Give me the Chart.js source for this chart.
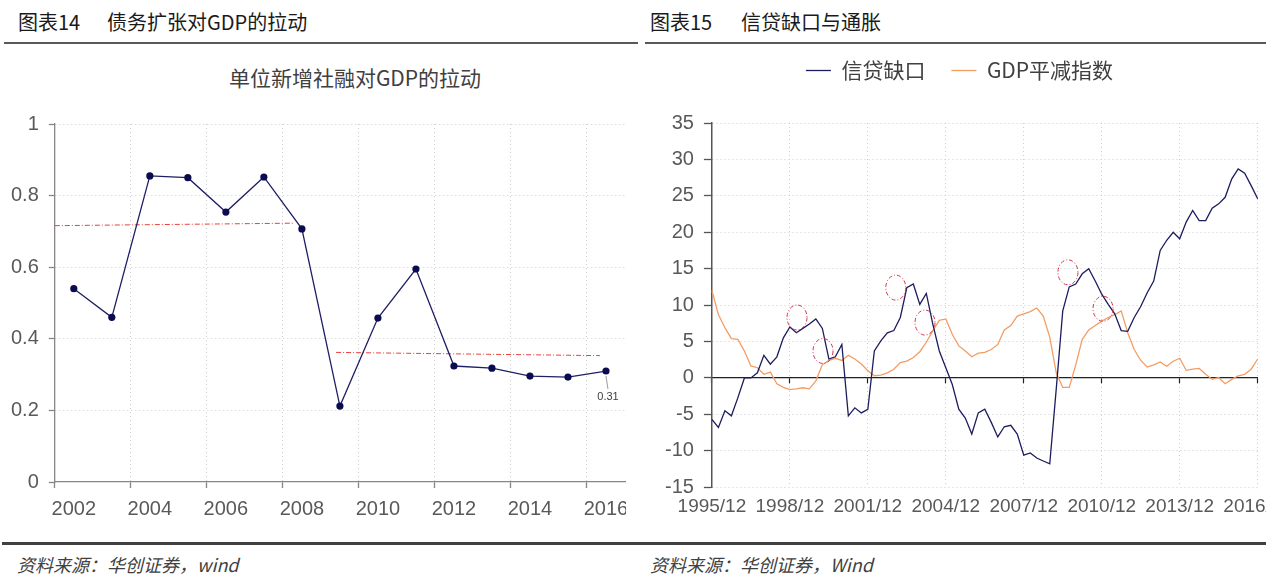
<!DOCTYPE html>
<html><head><meta charset="utf-8">
<script src="https://cdn.jsdelivr.net/npm/chart.js@4.4.1/dist/chart.umd.min.js"></script>
<style>
html,body{margin:0;padding:0;width:1266px;height:588px;overflow:hidden;background:#fff;font-family:"Noto Sans CJK SC",sans-serif;}
.hdr{position:absolute;top:8px;font-size:20px;font-weight:400;color:#1a1a1a;white-space:nowrap;line-height:28px;}
.hdr span.n{display:inline-block;}
.rule{position:absolute;top:42px;height:2px;background:#595959;}
.rule2{position:absolute;top:542px;height:3px;background:#404040;left:2px;width:1264px;}
.foot{position:absolute;top:552px;font-size:18px;font-style:italic;color:#404040;line-height:24px;white-space:nowrap;}
.ttl{position:absolute;top:63px;left:155px;width:400px;text-align:center;font-size:21px;color:#404040;line-height:28px;white-space:nowrap;}
#lw{position:absolute;left:0;top:50px;width:626px;height:480px;overflow:hidden;}
#lw div{position:relative;width:640px;height:480px;}
#rw{position:absolute;left:640px;top:30px;width:626px;height:520px;overflow:hidden;}
#rw div{position:relative;width:660px;height:520px;}
</style></head>
<body>
<div class="hdr" style="left:18px"><span class="n" style="width:89px">图表14</span>债务扩张对GDP的拉动</div>
<div class="hdr" style="left:650px"><span class="n" style="width:91px">图表15</span>信贷缺口与通胀</div>
<div class="rule" style="left:4px;width:634px"></div>
<div class="rule" style="left:645px;width:621px"></div>
<div class="ttl">单位新增社融对GDP的拉动</div>
<div id="lw"><div><canvas id="c1"></canvas></div></div>
<div id="rw"><div><canvas id="c2"></canvas></div></div>
<div class="rule2"></div>
<div class="foot" style="left:17px">资料来源：华创证券，wind</div>
<div class="foot" style="left:650px">资料来源：华创证券，Wind</div>
<script>
// ---------- Left chart data ----------
const years = ['2002','2003','2004','2005','2006','2007','2008','2009','2010','2011','2012','2013','2014','2015','2016'];
const pull = [0.54,0.46,0.855,0.85,0.754,0.852,0.707,0.212,0.458,0.595,0.324,0.318,0.296,0.293,0.31];
const trend1X = [-0.5, 5.8];
const trend1Y = [0.716, 0.723];
const trend2X = [6.9, 13.84];
const trend2Y = [0.362, 0.353];

// ---------- Right chart data ----------
const quarters = ['1995/12'];
for (let yr = 1996; yr <= 2016; yr++) for (const m of ['03','06','09','12']) quarters.push(yr + '/' + m);
const creditGap = [-5.7,-6.8,-4.5,-5.2,-2.7,0.0,0.0,0.7,3.1,1.9,2.9,5.5,7.0,6.2,6.8,7.4,8.1,6.8,2.6,2.9,4.6,
  -5.2,-4.1,-4.8,-4.3,3.7,5.1,6.2,6.5,8.3,12.4,12.9,10.1,11.6,7.4,3.7,1.4,-0.9,-4.3,-5.5,-7.7,-4.8,-4.3,-6.1,
  -8.1,-6.7,-6.5,-7.7,-10.6,-10.3,-11.0,-11.4,-11.8,-1.5,9.2,12.5,12.9,14.3,15.0,13.3,11.5,10.1,8.8,6.5,6.4,
  8.3,9.8,11.7,13.3,17.5,18.9,20.0,19.1,21.4,23.0,21.6,21.6,23.3,23.9,24.8,27.3,28.7,28.1,26.4,24.6];
const deflator = [12.0,8.7,6.9,5.4,5.3,3.7,1.65,1.4,0.5,0.8,-0.8,-1.3,-1.6,-1.5,-1.35,-1.5,-0.4,1.8,2.4,2.7,2.4,
  3.1,2.6,1.9,1.0,0.3,0.4,0.7,1.2,2.1,2.3,2.8,3.6,4.9,6.5,7.9,8.1,6.0,4.4,3.7,2.9,3.4,3.5,3.9,
  4.6,6.6,7.2,8.5,8.8,9.1,9.6,8.5,5.6,0.7,-1.3,-1.3,1.8,5.3,6.6,7.2,7.8,8.3,8.7,9.2,6.2,
  3.9,2.4,1.5,1.8,2.2,1.6,2.3,2.7,1.05,1.2,1.3,0.5,-0.2,0.05,-0.8,-0.2,0.3,0.5,1.2,2.6];
const circleQ = [13.1,17.1,28.3,32.8,54.8,60.2];
const circleV = [8.3,3.7,12.4,7.6,14.5,9.5];

const LAB = '#595959', AX = '#868686', GRID = '#cdcdcd';
Chart.defaults.font.family = '"Liberation Sans", Arial, sans-serif';

const lastLabel = {
  id: 'lastLabel',
  afterDatasetsDraw(chart) {
    const meta = chart.getDatasetMeta(0);
    const p = meta.data[meta.data.length - 1];
    const ctx = chart.ctx;
    ctx.save();
    ctx.strokeStyle = '#9a9a9a'; ctx.lineWidth = 1;
    ctx.beginPath(); ctx.moveTo(p.x, p.y + 5); ctx.lineTo(p.x + 2, p.y + 18); ctx.stroke();
    ctx.fillStyle = '#404040'; ctx.font = '11px "Liberation Sans", Arial'; ctx.textAlign = 'center'; ctx.textBaseline = 'middle';
    ctx.fillText(pull[pull.length - 1].toFixed(2), p.x + 2, p.y + 26);
    ctx.restore();
  }
};

new Chart(document.getElementById('c1'), {
  type: 'line',
  data: {
    labels: years,
    datasets: [
      {data: pull, xAxisID: 'x', yAxisID: 'y', borderColor: '#1f1f66', borderWidth: 1.3, tension: 0,
       pointRadius: 3.6, pointBackgroundColor: '#0b0b4f', pointBorderColor: '#0b0b4f', pointBorderWidth: 0},
      {data: trend1X.map((x, i) => ({x, y: trend1Y[i]})), xAxisID: 'xt', yAxisID: 'y', borderColor: '#e8413a',
       borderWidth: 1, borderDash: [5, 2, 1, 2], pointRadius: 0},
      {data: trend2X.map((x, i) => ({x, y: trend2Y[i]})), xAxisID: 'xt', yAxisID: 'y', borderColor: '#e8413a',
       borderWidth: 1, borderDash: [5, 2, 1, 2], pointRadius: 0}
    ]
  },
  options: {
    responsive: true, maintainAspectRatio: false, animation: false,
    layout: {padding: {left: 1, right: 15, top: 74, bottom: 0}},
    plugins: {legend: {display: false}, tooltip: {enabled: false}, title: {display: false}},
    scales: {
      x: {
        type: 'category', offset: true,
        grid: {offset: true, color: c => c.index % 2 === 0 ? GRID : 'transparent',
          tickColor: c => c.index % 2 === 0 ? AX : 'transparent', tickLength: 6, tickWidth: 1.3, tickBorderDash: []},
        border: {color: AX, width: 1.3, dash: [1, 3]},
        ticks: {autoSkip: false, maxRotation: 0, padding: 9, color: LAB, font: {size: 20},
          callback: function (v, i) { return i % 2 === 0 ? this.getLabelForValue(v) : ''; }}
      },
      xt: {type: 'linear', display: false, min: -0.5, max: 14.5},
      y: {
        min: 0, max: 1,
        ticks: {stepSize: 0.2, padding: 10, color: LAB, font: {size: 20}, callback: v => String(+v.toFixed(1))},
        grid: {color: c => (c.tick && c.tick.value === 0) ? 'transparent' : GRID, tickColor: AX, tickLength: 6, tickWidth: 1.3, tickBorderDash: []},
        border: {color: AX, width: 1.3, dash: [1, 3]}
      }
    }
  },
  plugins: [lastLabel]
});

const circles = {
  id: 'circles',
  afterDatasetsDraw(chart) {
    const {ctx, scales: {x, y}} = chart;
    ctx.save();
    ctx.strokeStyle = '#d8344c'; ctx.lineWidth = 1; ctx.setLineDash([4, 2, 1, 2]);
    circleQ.forEach((q, i) => {
      ctx.beginPath();
      ctx.ellipse(x.getPixelForValue(q), y.getPixelForValue(circleV[i]), 10, 12.5, 0, 0, Math.PI * 2);
      ctx.stroke();
    });
    ctx.restore();
  }
};
const legendMargin = {
  id: 'legendMargin',
  beforeInit(chart) {
    const fit = chart.legend.fit;
    chart.legend.fit = function () { fit.bind(chart.legend)(); this.height += 32; };
  }
};

new Chart(document.getElementById('c2'), {
  type: 'line',
  data: {
    labels: quarters,
    datasets: [
      {label: '信贷缺口', data: creditGap, xAxisID: 'x', yAxisID: 'y', borderColor: '#1c1c5e', backgroundColor: '#1c1c5e',
       borderWidth: 1.3, pointRadius: 0, tension: 0},
      {label: 'GDP平减指数', data: deflator, xAxisID: 'x', yAxisID: 'y', borderColor: '#f29d64', backgroundColor: '#f29d64',
       borderWidth: 1.3, pointRadius: 0, tension: 0}
    ]
  },
  options: {
    responsive: true, maintainAspectRatio: false, animation: false,
    layout: {padding: {left: 15, right: 36, top: 4, bottom: 24}},
    plugins: {
      tooltip: {enabled: false},
      legend: {display: true, position: 'top',
        labels: {usePointStyle: true, pointStyle: 'line', pointStyleWidth: 25, padding: 26, color: '#404040',
          font: {size: 21, family: '"Noto Sans CJK SC", sans-serif'}}}
    },
    scales: {
      x: {
        type: 'category',
        grid: {color: c => c.index % 12 === 0 ? GRID : 'transparent', drawTicks: false},
        border: {display: false, dash: [1, 3]},
        ticks: {autoSkip: false, maxRotation: 0, padding: 8, color: LAB, font: {size: 19},
          callback: (v, i) => i % 12 === 0 ? quarters[i] : ''}
      },
      x0: {
        type: 'category', position: {y: 0},
        ticks: {display: false},
        grid: {drawOnChartArea: false, tickLength: 5, tickWidth: 1.2, tickBorderDash: [],
          tickColor: c => c.index % 12 === 0 ? '#222' : 'transparent'},
        border: {color: '#222', width: 1.2}
      },
      y: {
        min: -15, max: 35,
        ticks: {stepSize: 5, padding: 10, color: LAB, font: {size: 20}},
        grid: {color: c => (c.tick && c.tick.value === 0) ? 'transparent' : GRID, tickColor: '#555', tickLength: 8, tickWidth: 1.3, tickBorderDash: []},
        border: {color: '#555', width: 1.5, dash: [1, 3]}
      }
    }
  },
  plugins: [circles, legendMargin]
});
</script>
</body></html>
